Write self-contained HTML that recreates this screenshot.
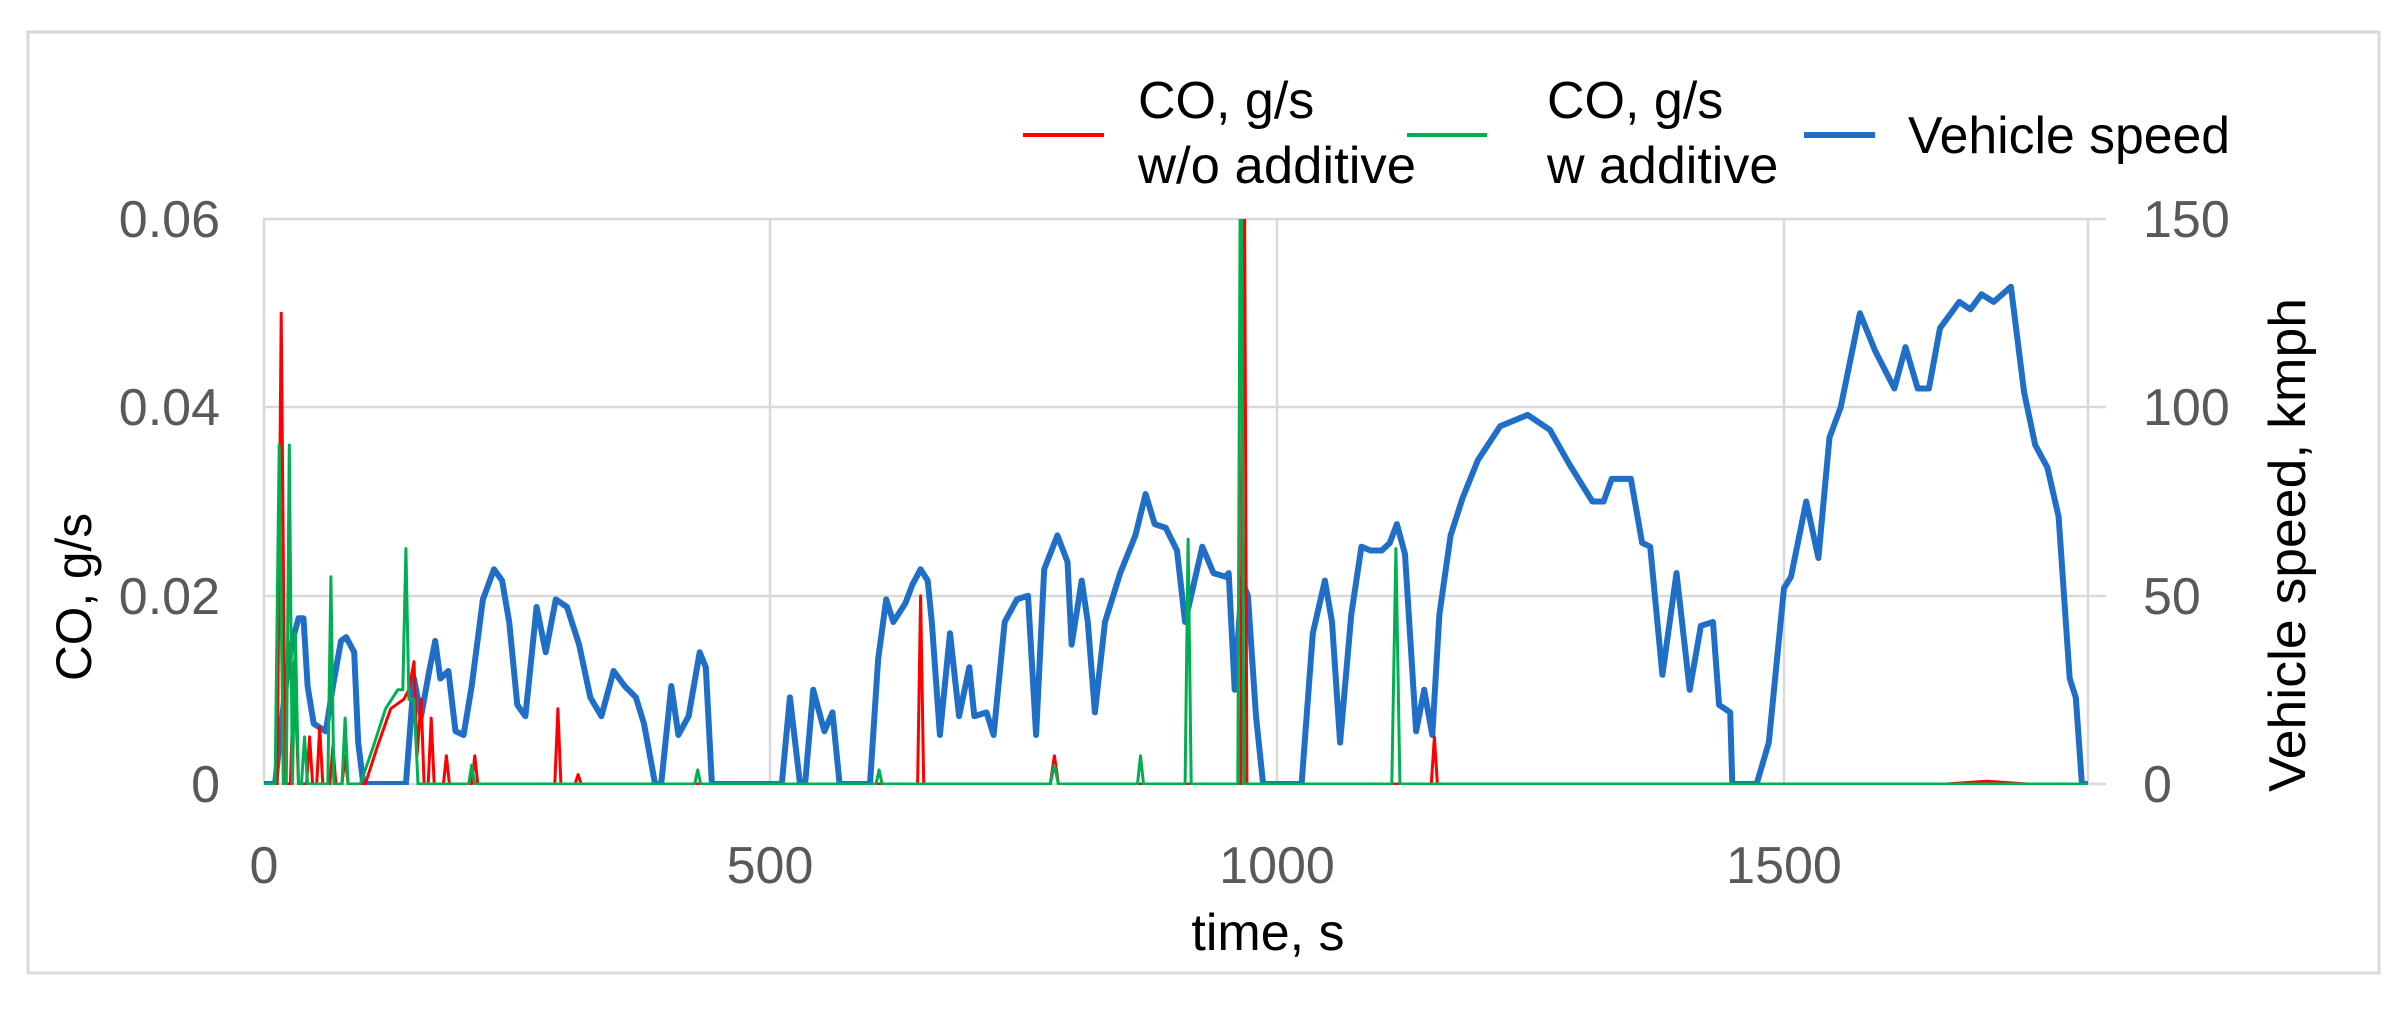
<!DOCTYPE html>
<html><head><meta charset="utf-8"><style>
html,body{margin:0;padding:0;background:#fff;}
svg{display:block;}
text{font-family:"Liberation Sans",sans-serif;}
</style></head><body>
<svg id="s" width="2404" height="1013" viewBox="0 0 2404 1013" xmlns="http://www.w3.org/2000/svg">
<rect x="28" y="32" width="2351" height="941" fill="#fff" stroke="#d9d9d9" stroke-width="3"/>
<defs><clipPath id="c"><rect x="263" y="219" width="1826" height="566"/></clipPath></defs>
<g stroke="#d9d9d9" stroke-width="2.5" fill="none">
<line x1="263" y1="219" x2="2106" y2="219"/>
<line x1="263" y1="407" x2="2106" y2="407"/>
<line x1="263" y1="596" x2="2106" y2="596"/>
<line x1="263" y1="784" x2="2106" y2="784"/>
<line x1="264" y1="219" x2="264" y2="784"/>
<line x1="770" y1="219" x2="770" y2="784"/>
<line x1="1277" y1="219" x2="1277" y2="784"/>
<line x1="1784" y1="219" x2="1784" y2="784"/>
<line x1="2088" y1="219" x2="2088" y2="784"/>
</g>
<g fill="#595959" font-size="52" text-anchor="end">
<text x="220" y="237">0.06</text>
<text x="220" y="425">0.04</text>
<text x="220" y="614">0.02</text>
<text x="220" y="802">0</text>
</g>
<g fill="#595959" font-size="52" text-anchor="start">
<text x="2143" y="237">150</text>
<text x="2143" y="425">100</text>
<text x="2143" y="614">50</text>
<text x="2143" y="802">0</text>
</g>
<g fill="#595959" font-size="52" text-anchor="middle">
<text x="264" y="883">0</text>
<text x="770" y="883">500</text>
<text x="1277" y="883">1000</text>
<text x="1784" y="883">1500</text>
</g>
<text x="1268" y="950" font-size="52" text-anchor="middle" fill="#000">time, s</text>
<text transform="translate(91,597) rotate(-90)" font-size="50" text-anchor="middle" fill="#000" textLength="168" lengthAdjust="spacingAndGlyphs">CO, g/s</text>
<text transform="translate(2305,545) rotate(-90)" font-size="52" text-anchor="middle" fill="#000" textLength="494" lengthAdjust="spacingAndGlyphs">Vehicle speed, kmph</text>
<line x1="1023" y1="135" x2="1104" y2="135" stroke="#ff0000" stroke-width="4"/>
<text x="1138" y="118" font-size="52">CO, g/s</text>
<text x="1138" y="183" font-size="52" textLength="278" lengthAdjust="spacingAndGlyphs">w/o additive</text>
<line x1="1407" y1="135" x2="1487" y2="135" stroke="#00b050" stroke-width="4"/>
<text x="1547" y="118" font-size="52">CO, g/s</text>
<text x="1547" y="183" font-size="52">w additive</text>
<line x1="1804" y1="135" x2="1875" y2="135" stroke="#1f6fc8" stroke-width="6"/>
<text x="1908" y="153" font-size="52" textLength="322" lengthAdjust="spacingAndGlyphs">Vehicle speed</text>
<g clip-path="url(#c)">
<polyline id="blue" fill="none" stroke="#1f6fc8" stroke-width="6" stroke-linejoin="round"/>
<polyline id="red" fill="none" stroke="#ff0000" stroke-width="3" stroke-linejoin="round"/>
<polyline id="green" fill="none" stroke="#00b050" stroke-width="3" stroke-linejoin="round"/>
</g>
</svg>
<script>
var X=function(t){return 264+t*1.0133;};
var YV=function(v){return 784-v*565/150;};
var YC=function(c){return 784-c*565/0.06;};
var b=[[0,0],[11,0],[20,23],[27,37],[34,44],[39,44],[43,26],[49,16],[61,14],[68,26],[76,38],[81,39],[89,35],[93,11],[98,0],[140,0],[148,28],[155,18],[163,30],[169,38],[174,28],[182,30],[189,14],[197,13],[205,26],[216,49],[227,57],[235,54],[242,43],[250,21],[258,18],[269,47],[278,35],[288,49],[299,47],[311,37],[322,23],[333,18],[345,30],[356,26],[367,23],[375,16],[386,0],[392,0],[402,26],[409,13],[419,18],[430,35],[436,31],[442,0],[511,0],[519,23],[529,0],[534,0],[542,25],[553,14],[561,19],[568,0],[598,0],[606,33],[614,49],[621,43],[633,48],[640,53],[648,57],[655,54],[659,43],[667,13],[677,40],[686,18],[696,31],[701,18],[713,19],[720,13],[731,43],[743,49],[754,50],[762,13],[770,57],[783,66],[793,59],[797,37],[807,54],[813,43],[820,19],[830,43],[845,56],[860,66],[870,77],[879,69],[890,68],[901,62],[909,43],[926,63],[937,56],[949,55],[952,56],[958,25],[965,54],[971,50],[979,18],[986,0],[1024,0],[1035,40],[1047,54],[1054,43],[1062,11],[1073,45],[1083,63],[1092,62],[1103,62],[1111,64],[1118,69],[1126,61],[1137,14],[1145,25],[1153,13],[1160,45],[1171,66],[1183,76],[1198,86],[1220,95],[1247,98],[1269,94],[1288,85],[1311,75],[1322,75],[1330,81],[1349,81],[1360,64],[1368,63],[1380,29],[1394,56],[1407,25],[1418,42],[1430,43],[1436,21],[1447,19],[1449,0],[1473,0],[1485,11],[1500,52],[1507,55],[1522,75],[1534,60],[1545,92],[1556,100],[1575,125],[1590,115],[1609,105],[1620,116],[1632,105],[1643,105],[1654,121],[1673,128],[1684,126],[1695,130],[1707,128],[1724,132],[1737,104],[1748,90],[1760,84],[1771,71],[1782,28],[1788,23],[1794,0],[1800,0]];
document.getElementById('blue').setAttribute('points',b.map(function(p){return X(p[0]).toFixed(1)+','+YV(p[1]).toFixed(1);}).join(' '));
function withRamp(list,ramp){
  var pts=[[0,0]];
  list.sort(function(a,b){return a[0]-b[0];});
  list.forEach(function(s){
    if(s[0]===140||s[0]===148){return;}
    pts.push([s[0]-s[2],0]);pts.push([s[0],s[1]]);pts.push([s[0]+s[2],0]);
    if(s[0]===80){ramp.forEach(function(r){pts.push(r);});}
  });
  pts.push([1800,0]);
  return pts.map(function(p){return X(p[0]).toFixed(1)+','+YC(p[1]).toFixed(1);}).join(' ');
}
var green=[[15,0.036,4],[25,0.036,3],[31,0.016,3],[40,0.005,3],[66,0.022,3],[80,0.007,3],[140,0.025,4],[148,0.009,3],[205,0.002,3],[428,0.0015,3],[607,0.0015,3],[780,0.002,4],[865,0.003,3],[912,0.026,3],[964,0.08,3],[1117,0.025,4]];
var redRamp=[[100,0],[112,0.004],[125,0.008],[138,0.009],[143,0.010],[148,0.013],[151,0.003],[155,0.009],[158,0]];
var greenRamp=[[95,0],[108,0.004],[120,0.008],[132,0.010],[137,0.010],[140,0.025],[143,0.009],[148,0.009],[152,0]];
var red2=[[17,0.05,4],[30,0.013,4],[45,0.005,3],[55,0.006,3],[68,0.004,3],[80,0.003,3],[165,0.007,3],[180,0.003,3],[208,0.003,3],[290,0.008,3],[310,0.001,3],[648,0.02,3],[780,0.003,4],[967,0.08,3],[1155,0.005,3],[1700,0.0003,40]];
document.getElementById('red').setAttribute('points',withRamp(red2,redRamp));
document.getElementById('green').setAttribute('points',withRamp(green,greenRamp));
</script>
</body></html>
